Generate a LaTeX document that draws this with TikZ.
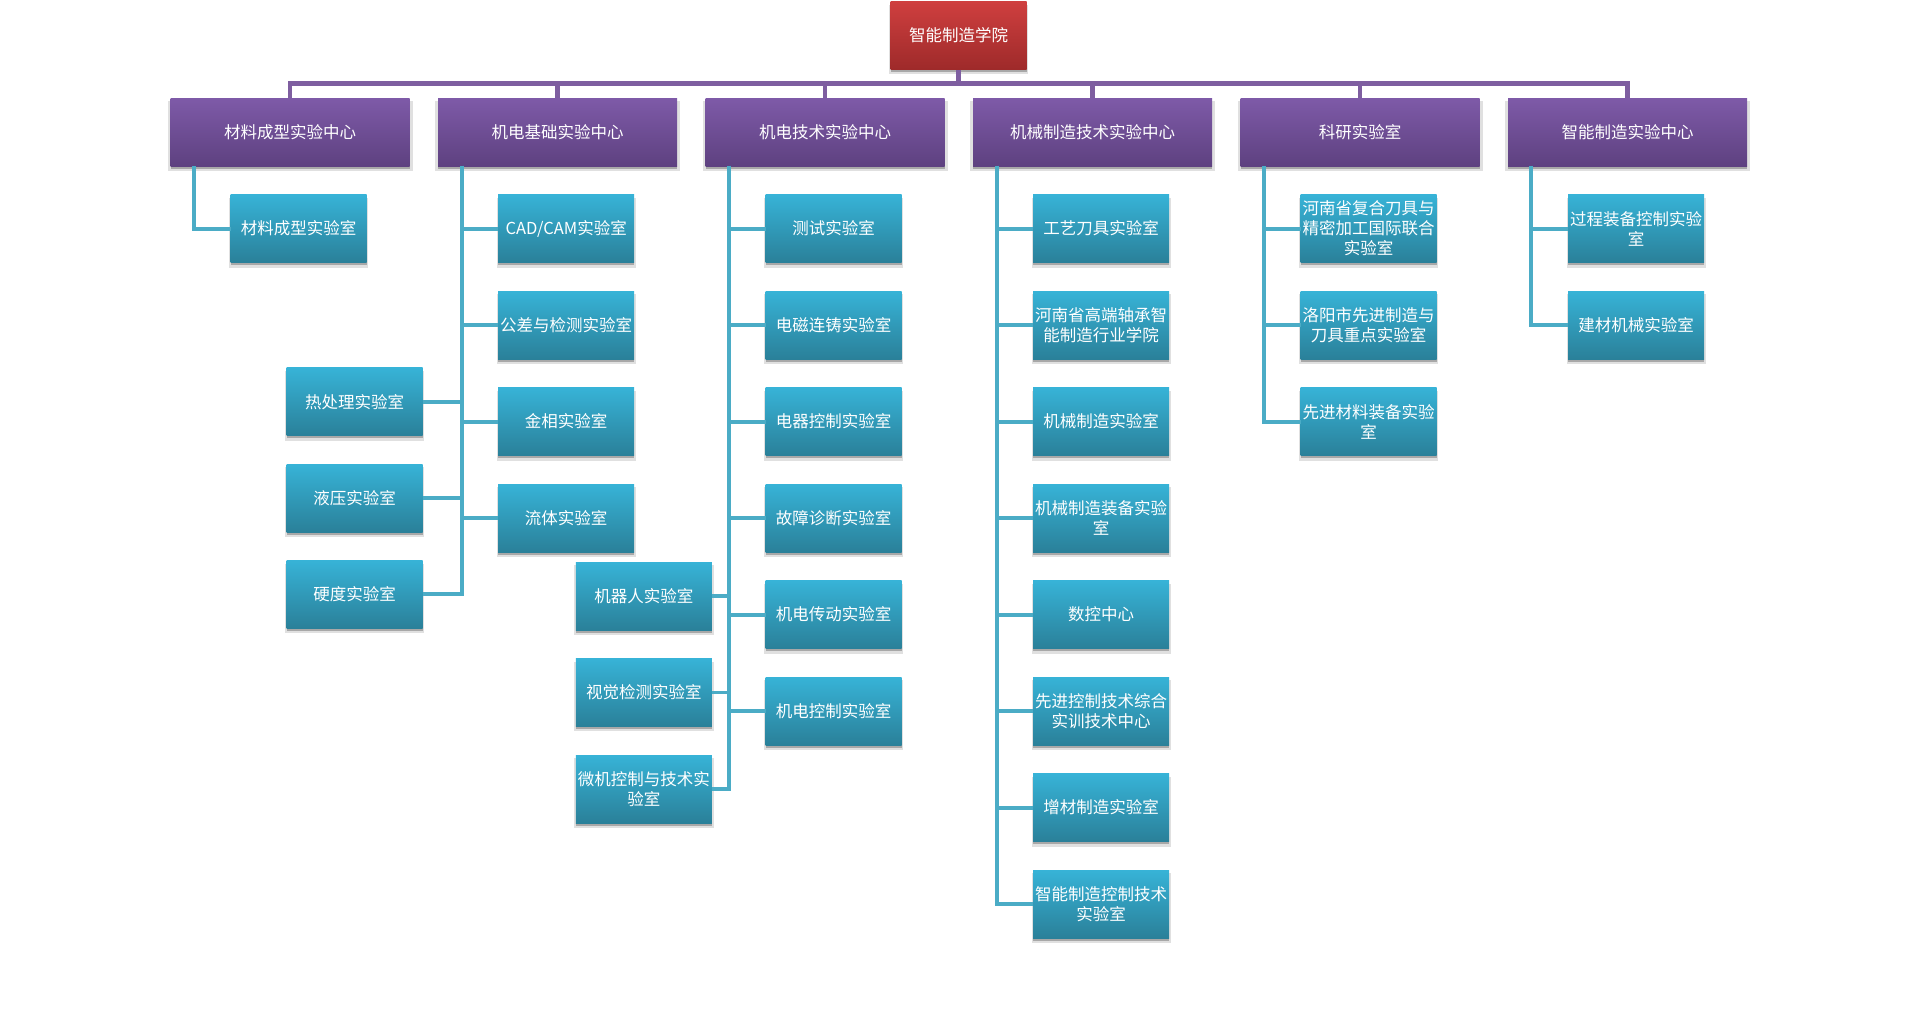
\documentclass[tikz,border=0pt]{standalone}
\usepackage{fontspec}
\newfontfamily\cjk{Noto Sans CJK SC}
\usetikzlibrary{shadows}
\definecolor{rootT}{HTML}{CF3F3F}
\definecolor{rootB}{HTML}{9E2A2A}
\definecolor{purT}{HTML}{7E5AA8}
\definecolor{purB}{HTML}{5E4180}
\definecolor{cyT}{HTML}{37B3D7}
\definecolor{cyB}{HTML}{2A8099}
\definecolor{purLine}{HTML}{7E5EA0}
\definecolor{cyLine}{HTML}{4BACC6}
\tikzset{
  box/.style={minimum height=68pt, inner sep=0pt, align=center, text=white,
    font=\cjk\fontsize{16.5}{20}\selectfont,
    drop shadow={shadow xshift=0pt, shadow yshift=-4pt, shadow scale=1.025, fill=black, opacity=0.12},
    drop shadow={shadow xshift=0pt, shadow yshift=-2.5pt, fill=black, opacity=0.25}},
  rootbox/.style={box, minimum width=136pt, top color=rootT, bottom color=rootB},
  centerbox/.style={box, minimum width=239pt, top color=purT, bottom color=purB},
  labbox/.style={box, minimum width=136pt, text width=136pt, top color=cyT, bottom color=cyB},
  bus/.style={draw=purLine, line width=4.5pt},
  link/.style={draw=cyLine, line width=3.8pt},
}
\begin{document}
\begin{tikzpicture}[x=1pt,y=-1pt]
\useasboundingbox (0,0) rectangle (1918,1034);
% root and centres
\node[rootbox] (root) at (958.5,35.5) {智能制造学院};
\node[centerbox] (m1) at (290.2,132) {材料成型实验中心};
\node[centerbox] (m2) at (557.7,132) {机电基础实验中心};
\node[centerbox] (m3) at (825.2,132) {机电技术实验中心};
\node[centerbox] (m4) at (1092.7,132) {机械制造技术实验中心};
\node[centerbox] (m5) at (1360.2,132) {科研实验室};
\node[centerbox] (m6) at (1627.7,132) {智能制造实验中心};
\coordinate (bj) at (958.5,83.3);
\draw[bus] (root.south) -- (bj);
\foreach \i in {1,...,6} { \draw[bus] (m\i.north) |- (bj); }
% column 1
\node[labbox] (a0) at (298.7,228.6) {材料成型实验室};
% column 2
\node[labbox] (b0) at (566.2,228.6) {CAD/CAM实验室};
\node[labbox] (b1) at (566.2,325.1) {公差与检测实验室};
\node[labbox] (b2) at (566.2,421.6) {金相实验室};
\node[labbox] (b3) at (566.2,518.1) {流体实验室};
\node[labbox] (bl1) at (354.5,401.7) {热处理实验室};
\node[labbox] (bl2) at (354.5,498) {液压实验室};
\node[labbox] (bl3) at (354.5,594.3) {硬度实验室};
% column 3
\node[labbox] (c0) at (833.7,228.6) {测试实验室};
\node[labbox] (c1) at (833.7,325.1) {电磁连铸实验室};
\node[labbox] (c2) at (833.7,421.6) {电器控制实验室};
\node[labbox] (c3) at (833.7,518.1) {故障诊断实验室};
\node[labbox] (c4) at (833.7,614.6) {机电传动实验室};
\node[labbox] (c5) at (833.7,711.1) {机电控制实验室};
\node[labbox] (cl1) at (643.8,596) {机器人实验室};
\node[labbox] (cl2) at (643.8,692.5) {视觉检测实验室};
\node[labbox] (cl3) at (643.8,789) {微机控制与技术实\\验室};
% column 4
\node[labbox] (d0) at (1101.2,228.6) {工艺刀具实验室};
\node[labbox] (d1) at (1101.2,325.1) {河南省高端轴承智\\能制造行业学院};
\node[labbox] (d2) at (1101.2,421.6) {机械制造实验室};
\node[labbox] (d3) at (1101.2,518.1) {机械制造装备实验\\室};
\node[labbox] (d4) at (1101.2,614.6) {数控中心};
\node[labbox] (d5) at (1101.2,711.1) {先进控制技术综合\\实训技术中心};
\node[labbox] (d6) at (1101.2,807.6) {增材制造实验室};
\node[labbox] (d7) at (1101.2,904.1) {智能制造控制技术\\实验室};
% column 5
\node[labbox] (e0) at (1368.7,228.6) {河南省复合刀具与\\精密加工国际联合\\实验室};
\node[labbox] (e1) at (1368.7,325.1) {洛阳市先进制造与\\刀具重点实验室};
\node[labbox] (e2) at (1368.7,421.6) {先进材料装备实验\\室};
% column 6
\node[labbox] (f0) at (1636.2,228.6) {过程装备控制实验\\室};
\node[labbox] (f1) at (1636.2,325.1) {建材机械实验室};
% trunks
\coordinate (t1) at (193.7,165.9);
\coordinate (t2) at (461.7,165.9);
\coordinate (t3) at (728.7,165.9);
\coordinate (t4) at (996.7,165.9);
\coordinate (t5) at (1263.9,165.9);
\coordinate (t6) at (1531.2,165.9);
\draw[link] (t1) |- (a0.west);
\foreach \n in {b0,b1,b2,b3} { \draw[link] (t2) |- (\n.west); }
\foreach \n in {bl1,bl2,bl3} { \draw[link] (t2) |- (\n.east); }
\foreach \n in {c0,c1,c2,c3,c4,c5} { \draw[link] (t3) |- (\n.west); }
\foreach \n in {cl1,cl2,cl3} { \draw[link] (t3) |- (\n.east); }
\foreach \n in {d0,d1,d2,d3,d4,d5,d6,d7} { \draw[link] (t4) |- (\n.west); }
\foreach \n in {e0,e1,e2} { \draw[link] (t5) |- (\n.west); }
\foreach \n in {f0,f1} { \draw[link] (t6) |- (\n.west); }
\end{tikzpicture}
\end{document}
